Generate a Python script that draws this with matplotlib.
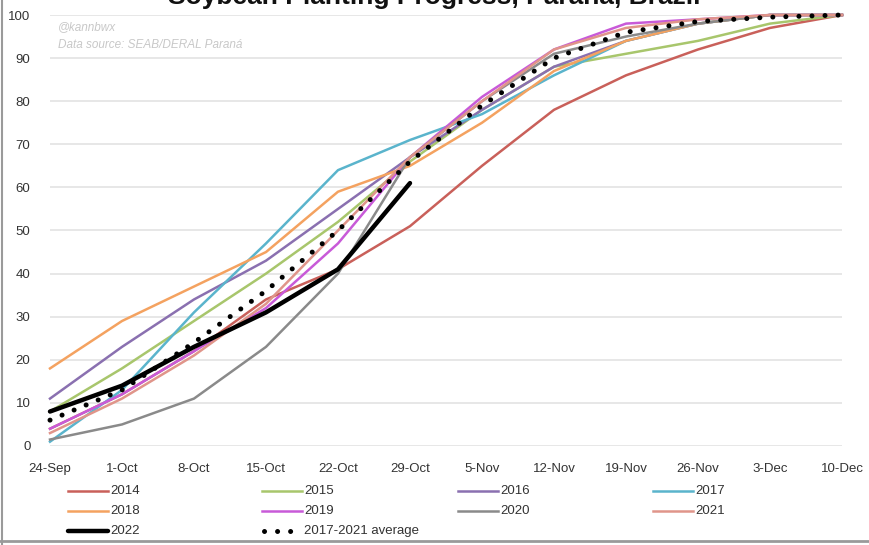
import matplotlib
matplotlib.use("Agg")
import matplotlib.pyplot as plt
from matplotlib.lines import Line2D

plt.rcParams['font.family'] = ['Liberation Sans', 'DejaVu Sans']

weeks = ["24-Sep", "1-Oct", "8-Oct", "15-Oct", "22-Oct", "29-Oct", "5-Nov",
         "12-Nov", "19-Nov", "26-Nov", "3-Dec", "10-Dec"]

y2014 = [4, 12, 22, 34, 41, 51, 65, 78, 86, 92, 97, 100]
y2015 = [8, 18, 29, 40, 52, 66, 78, 88, 91, 94, 98, 100]
y2016 = [11, 23, 34, 43, 55, 67, 78, 88, 94, 98, 100, 100]
y2017 = [1, 13, 31, 47, 64, 71, 77, 86, 94, 98, 100, 100]
y2018 = [18, 29, 37, 45, 59, 65, 75, 87, 94, 98, 100, 100]
y2019 = [4, 12, 22, 32, 47, 67, 81, 92, 98, 99, 100, 100]
y2020 = [1.5, 5, 11, 23, 40, 67, 80, 91, 95, 98, 100, 100]
y2021 = [3, 11, 21, 33, 50, 67, 80, 92, 97, 99, 100, 100]
y2022 = [8, 14, 23, 31, 41, 61]
avg = [6, 13, 24, 36, 50, 66, 79, 90, 96, 98.5, 99.5, 100]

series = [
    ("2014", y2014, "#c9605a"),
    ("2015", y2015, "#a8c66c"),
    ("2016", y2016, "#8a70b0"),
    ("2017", y2017, "#5ab4cc"),
    ("2018", y2018, "#f4a260"),
    ("2019", y2019, "#c85ad8"),
    ("2020", y2020, "#8a8a8a"),
    ("2021", y2021, "#e0958a"),
]

fig = plt.figure(figsize=(8.69, 5.45), dpi=100)
W, H = 869, 545
x0, x1 = 50, 842
ytop, ybot = 15, 446
ax = fig.add_axes([x0 / W, 1 - ybot / H, (x1 - x0) / W, (ybot - ytop) / H])

xs = list(range(len(weeks)))
styles = {}
for name, vals, col in series:
    kw = dict(color=col, lw=1.8)
    ax.plot(xs[:len(vals)], vals, clip_on=False, solid_joinstyle='round', **kw)
    styles[name] = kw
kw22 = dict(color="black", lw=3.2, solid_capstyle='round')
ax.plot(xs[:len(y2022)], y2022, clip_on=False, **kw22)
styles["2022"] = kw22
kwav = dict(color="black", lw=3.6, linestyle=(0, (0.01, 2.6)), dash_capstyle='round')
ax.plot(xs, avg, clip_on=False, **kwav)
styles["2017-2021 average"] = kwav

ax.set_xlim(0, 11)
ax.set_ylim(0, 100)
ax.set_yticks(range(0, 101, 10))
ax.set_xticks(xs)
ax.set_xticklabels(weeks)
ax.grid(axis='y', color='#e3e3e3', lw=1.2)
ax.set_axisbelow(True)
for s in ax.spines.values():
    s.set_visible(False)
ax.tick_params(length=0, labelsize=9.5, colors='#333333')
ax.tick_params(axis='y', pad=14)
ax.tick_params(axis='x', pad=12)

ax.text(0.01, 0.985, "@kannbwx", transform=ax.transAxes, fontsize=8.5,
        color='#c8c8c8', style='italic', va='top')
ax.text(0.01, 0.945, "Data source: SEAB/DERAL Paraná", transform=ax.transAxes,
        fontsize=8.5, color='#c8c8c8', style='italic', va='top')

fig.text(0.5, 1 - 4 / H, "Soybean Planting Progress, Paraná, Brazil",
         ha='center', va='baseline', fontsize=19, fontweight='bold', color='#111111')

# legend laid out on an even grid (row-major)
order = ["2014", "2015", "2016", "2017",
         "2018", "2019", "2020", "2021",
         "2022", "2017-2021 average"]
col_x = [68, 262, 458, 653]
row_y = [491, 511, 531]
for i, name in enumerate(order):
    cx = col_x[i % 4]
    ry = row_y[i // 4]
    kw = styles[name]
    if name == "2017-2021 average":
        hx = [cx + 2, cx + 36]
    else:
        hx = [cx, cx + 40]
    fig.add_artist(Line2D([v / W for v in hx], [1 - ry / H] * 2, **kw))
    fig.text((cx + 42) / W, 1 - ry / H, name, fontsize=9.5, color='#333333',
             va='center', ha='left')

fig.add_artist(Line2D([2 / W, 2 / W], [0, 1], color='#9a9a9a', lw=1.5))
fig.add_artist(Line2D([0, 1], [4 / H, 4 / H], color='#9a9a9a', lw=2))

fig.savefig("out.png", dpi=100)
